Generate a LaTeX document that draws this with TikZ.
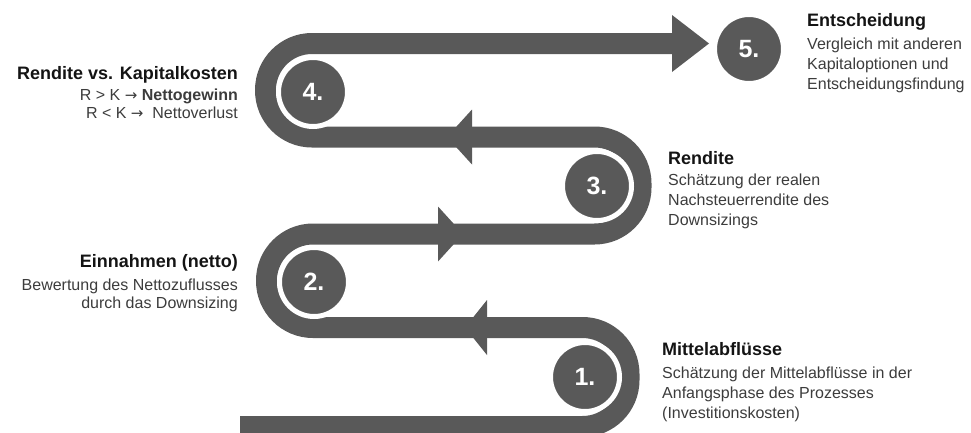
\documentclass[tikz,border=0pt]{standalone}
\usepackage{fontspec}
\setmainfont{Liberation Sans}
\newfontfamily\arrowfont{DejaVu Sans}
\usepackage{xcolor}
\usepackage{tikz}
\usetikzlibrary{positioning}

\definecolor{bandgray}{HTML}{595959}
\definecolor{titlegray}{HTML}{141414}
\definecolor{bodygray}{HTML}{3C3C3C}
\newcommand{\ra}{{\arrowfont\fontsize{15}{15}\selectfont →}}

\begin{document}
\begin{tikzpicture}[x=1pt, y=-1pt,
    band/.style={draw=bandgray, line width=21pt, rounded corners=46.5pt},
    head/.style={fill=bandgray},
    stepdot/.style={circle, fill=bandgray, draw=white, line width=5pt, minimum size=69pt, inner sep=0pt, text=white, font=\fontsize{25}{25}\selectfont\bfseries},
    ttl/.style={inner sep=0pt, text=titlegray, font=\fontsize{18}{22}\selectfont\bfseries},
    txt/.style={inner sep=0pt, text=bodygray, font=\fontsize{16}{20}\selectfont},
    txtl/.style={txt, font=\fontsize{16}{18.5}\selectfont}]
    \useasboundingbox (0,0) rectangle (971,432);
    \clip (0,0) rectangle (971,432);

    % Snake band
    \coordinate (start) at (240,426.5);
    \coordinate (hd5) at (672,43.5);
    \draw[band] (start) -- (629,426.5) -- (629,327.5) -- (266.5,327.5) -- (266.5,234)
        -- (641,234) -- (641,137) -- (265.5,137) -- (265.5,43.5) -- (hd5);

    % Arrow heads
    \coordinate (hd1) at (465,327.5);
    \coordinate (hd2) at (463,234);
    \coordinate (hd3) at (447,137);
    \fill[head] (hd1) -- ++(22,-27.5) -- ++(0,55) -- cycle;
    \fill[head] (hd2) -- ++(-25,-27.5) -- ++(0,55) -- cycle;
    \fill[head] (hd3) -- ++(25,-27.5) -- ++(0,55) -- cycle;
    \fill[head] (hd5) -- ++(0,-28.5) -- ++(37,28.5) -- ++(-37,28.5) -- cycle;

    % Steps
    \node[stepdot] (c1) at (585,377) {1.};
    \node[stepdot] (c2) at (314,282) {2.};
    \node[stepdot] (c3) at (597,186) {3.};
    \node[stepdot] (c4) at (313,92) {4.};
    \node[stepdot] (c5) at (749,49) {5.};

    % Right side texts (body anchored on its last line)
    \node[ttl, anchor=base west] at (807,26) (ttl5) {Entscheidung};
    \node[txt, anchor=base west, align=left] at ([yshift=-63pt]ttl5.base west) (txt5)
        {Vergleich mit anderen\\Kapitaloptionen und\\Entscheidungsfindung};
    \node[ttl, anchor=base west] at (668,164.5) (ttl3) {Rendite};
    \node[txt, anchor=base west, align=left] at ([yshift=-61pt]ttl3.base west) (txt3)
        {Schätzung der realen\\Nachsteuerrendite des\\Downsizings};
    \node[ttl, anchor=base west] at (662,355) (ttl1) {Mittelabflüsse};
    \node[txt, anchor=base west, align=left] at ([yshift=-63pt]ttl1.base west) (txt1)
        {Schätzung der Mittelabflüsse in der\\Anfangsphase des Prozesses\\(Investitionskosten)};

    % Left side texts
    \node[ttl, anchor=base east] at (238,79) (ttl4) {Rendite vs. Kapitalkosten};
    \node[txtl, anchor=base east, align=right] at ([yshift=-39.5pt]ttl4.base east) (txt4)
        {R > K \ra\ \textbf{Nettogewinn}\\R < K \ra\ \ Nettoverlust};
    \node[ttl, anchor=base east] at (238,267) (ttl2) {Einnahmen (netto)};
    \node[txtl, anchor=base east, align=right] at ([yshift=-41.5pt]ttl2.base east) (txt2)
        {Bewertung des Nettozuflusses\\durch das Downsizing};
\end{tikzpicture}
\end{document}
